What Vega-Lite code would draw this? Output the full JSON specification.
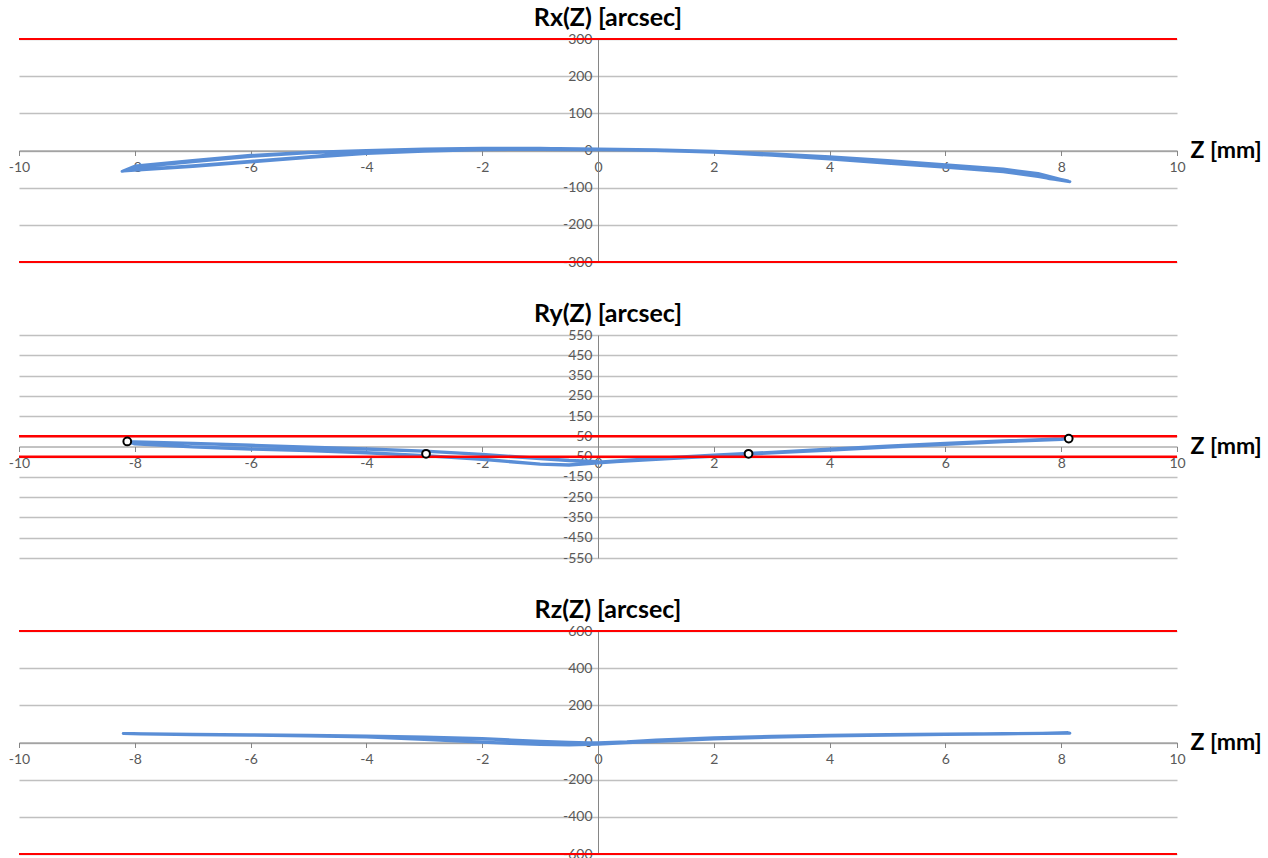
{
  "$schema": "https://vega.github.io/schema/vega-lite/v6.json",
  "background": "white",
  "padding": {"left": 8, "top": 6, "right": 0, "bottom": 0},
  "spacing": 33,
  "config": {
    "view": {"stroke": null},
    "font": "Lato",
    "axis": {"labelFont": "Lato", "labelFontSize": 14, "labelColor": "#595959", "domainColor": "#868686", "tickColor": "#868686", "gridColor": "#C0C0C0", "gridWidth": 1.5, "labelOverlap": false, "labelFlush": false, "labelBound": false}
  },
  "datasets": {
    "rx": [
      {"i":0,"z":0,"v":3},{"i":1,"z":1,"v":2},{"i":2,"z":2,"v":-2},{"i":3,"z":3,"v":-9},{"i":4,"z":4,"v":-17},{"i":5,"z":5,"v":-27},{"i":6,"z":6,"v":-38},{"i":7,"z":7,"v":-50},{"i":8,"z":7.6,"v":-62},{"i":9,"z":8.15,"v":-84},
      {"i":10,"z":7.9,"v":-78},{"i":11,"z":7.6,"v":-70},{"i":12,"z":7,"v":-57},{"i":13,"z":6,"v":-45},{"i":14,"z":5,"v":-34},{"i":15,"z":4,"v":-23},{"i":16,"z":3,"v":-13},{"i":17,"z":2,"v":-5},{"i":18,"z":1,"v":0},{"i":19,"z":0,"v":3},
      {"i":20,"z":-1,"v":4},{"i":21,"z":-2,"v":3},{"i":22,"z":-3,"v":0},{"i":23,"z":-4,"v":-6},{"i":24,"z":-4.5,"v":-10},{"i":25,"z":-5,"v":-17},{"i":26,"z":-6,"v":-29},{"i":27,"z":-7,"v":-41},{"i":28,"z":-8,"v":-52},{"i":29,"z":-8.22,"v":-56},
      {"i":30,"z":-8,"v":-42},{"i":31,"z":-7,"v":-27},{"i":32,"z":-6,"v":-13},{"i":33,"z":-5,"v":-5},{"i":34,"z":-4,"v":0},{"i":35,"z":-3,"v":4},{"i":36,"z":-2,"v":6},{"i":37,"z":-1,"v":6},{"i":38,"z":0,"v":4},
      {"i":39,"z":1,"v":2},{"i":40,"z":2,"v":-3},{"i":41,"z":3,"v":-10},{"i":42,"z":4,"v":-19},{"i":43,"z":5,"v":-29},{"i":44,"z":6,"v":-40},{"i":45,"z":7,"v":-52},{"i":46,"z":7.6,"v":-64},{"i":47,"z":8.12,"v":-82},
      {"i":48,"z":7.8,"v":-76},{"i":49,"z":7.6,"v":-68},{"i":50,"z":7,"v":-55},{"i":51,"z":6,"v":-43},{"i":52,"z":5,"v":-32},{"i":53,"z":4,"v":-21},{"i":54,"z":3,"v":-11},{"i":55,"z":2,"v":-4},{"i":56,"z":1,"v":1},{"i":57,"z":0,"v":2},
      {"i":58,"z":-1,"v":3},{"i":59,"z":-2,"v":2},{"i":60,"z":-3,"v":-2},{"i":61,"z":-4,"v":-8},{"i":62,"z":-5,"v":-19},{"i":63,"z":-6,"v":-31},{"i":64,"z":-7,"v":-43},{"i":65,"z":-8,"v":-53},{"i":66,"z":-8.2,"v":-55},
      {"i":67,"z":-8,"v":-45},{"i":68,"z":-7,"v":-30},{"i":69,"z":-6,"v":-16},{"i":70,"z":-5,"v":-6},{"i":71,"z":-4,"v":-1},{"i":72,"z":-3,"v":3},{"i":73,"z":-2,"v":5},{"i":74,"z":-1,"v":6},{"i":75,"z":0,"v":3}
    ],
    "ry": [
      {"i":0,"z":0,"v":-80},{"i":1,"z":1,"v":-60},{"i":2,"z":2,"v":-44},{"i":3,"z":2.6,"v":-36},{"i":4,"z":3,"v":-30},{"i":5,"z":4,"v":-14},{"i":6,"z":5,"v":0},{"i":7,"z":6,"v":15},{"i":8,"z":7,"v":27},{"i":9,"z":8,"v":37},{"i":10,"z":8.13,"v":40},
      {"i":11,"z":8,"v":35},{"i":12,"z":7,"v":23},{"i":13,"z":6,"v":10},{"i":14,"z":5,"v":-4},{"i":15,"z":4,"v":-18},{"i":16,"z":3,"v":-32},{"i":17,"z":2,"v":-48},{"i":18,"z":1,"v":-64},{"i":19,"z":0,"v":-80},
      {"i":20,"z":-0.5,"v":-90},{"i":21,"z":-1,"v":-86},{"i":22,"z":-2,"v":-62},{"i":23,"z":-3,"v":-44},{"i":24,"z":-4,"v":-30},{"i":25,"z":-5,"v":-19},{"i":26,"z":-6,"v":-11},{"i":27,"z":-7,"v":-1},{"i":28,"z":-8,"v":14},{"i":29,"z":-8.15,"v":22},
      {"i":30,"z":-8,"v":23},{"i":31,"z":-7,"v":15},{"i":32,"z":-6,"v":5},{"i":33,"z":-5,"v":-5},{"i":34,"z":-4,"v":-13},{"i":35,"z":-3,"v":-24},{"i":36,"z":-2,"v":-40},{"i":37,"z":-1,"v":-60},{"i":38,"z":-0.5,"v":-70},{"i":39,"z":0,"v":-76},
      {"i":40,"z":1,"v":-58},{"i":41,"z":2,"v":-42},{"i":42,"z":3,"v":-28},{"i":43,"z":4,"v":-12},{"i":44,"z":5,"v":2},{"i":45,"z":6,"v":16},{"i":46,"z":7,"v":28},{"i":47,"z":8,"v":38},{"i":48,"z":8.12,"v":41},
      {"i":49,"z":8,"v":37},{"i":50,"z":7,"v":25},{"i":51,"z":6,"v":12},{"i":52,"z":5,"v":-2},{"i":53,"z":4,"v":-16},{"i":54,"z":3,"v":-30},{"i":55,"z":2,"v":-46},{"i":56,"z":1,"v":-62},{"i":57,"z":0,"v":-82},
      {"i":58,"z":-0.5,"v":-92},{"i":59,"z":-1,"v":-88},{"i":60,"z":-2,"v":-64},{"i":61,"z":-3,"v":-46},{"i":62,"z":-4,"v":-32},{"i":63,"z":-5,"v":-21},{"i":64,"z":-6,"v":-13},{"i":65,"z":-7,"v":-3},{"i":66,"z":-8,"v":12},{"i":67,"z":-8.13,"v":24},
      {"i":68,"z":-8,"v":24},{"i":69,"z":-7,"v":16},{"i":70,"z":-6,"v":7},{"i":71,"z":-5,"v":-3},{"i":72,"z":-4,"v":-11},{"i":73,"z":-3,"v":-22},{"i":74,"z":-2,"v":-38},{"i":75,"z":-1,"v":-58},{"i":76,"z":-0.5,"v":-68},{"i":77,"z":0,"v":-74}
    ],
    "rz": [
      {"i":0,"z":0,"v":-5},{"i":1,"z":0.5,"v":2},{"i":2,"z":1,"v":12},{"i":3,"z":2,"v":24},{"i":4,"z":3,"v":32},{"i":5,"z":4,"v":38},{"i":6,"z":5,"v":42},{"i":7,"z":6,"v":45},{"i":8,"z":7,"v":48},{"i":9,"z":8.15,"v":50},
      {"i":10,"z":7,"v":47},{"i":11,"z":6,"v":44},{"i":12,"z":5,"v":40},{"i":13,"z":4,"v":36},{"i":14,"z":3,"v":29},{"i":15,"z":2,"v":20},{"i":16,"z":1,"v":8},{"i":17,"z":0.5,"v":0},{"i":18,"z":0,"v":-8},
      {"i":19,"z":-0.5,"v":-12},{"i":20,"z":-1,"v":-10},{"i":21,"z":-1.5,"v":-4},{"i":22,"z":-2,"v":3},{"i":23,"z":-3,"v":18},{"i":24,"z":-4,"v":30},{"i":25,"z":-5,"v":36},{"i":26,"z":-6,"v":40},{"i":27,"z":-7,"v":43},{"i":28,"z":-8.2,"v":48},
      {"i":29,"z":-7,"v":44},{"i":30,"z":-6,"v":42},{"i":31,"z":-5,"v":38},{"i":32,"z":-4,"v":34},{"i":33,"z":-3,"v":28},{"i":34,"z":-2,"v":20},{"i":35,"z":-1.5,"v":12},{"i":36,"z":-1,"v":5},{"i":37,"z":-0.5,"v":0},{"i":38,"z":0,"v":-2},
      {"i":39,"z":0.5,"v":4},{"i":40,"z":1,"v":14},{"i":41,"z":2,"v":25},{"i":42,"z":3,"v":33},{"i":43,"z":4,"v":39},{"i":44,"z":5,"v":43},{"i":45,"z":6,"v":46},{"i":46,"z":7,"v":48},{"i":47,"z":8.12,"v":50},
      {"i":48,"z":7,"v":46},{"i":49,"z":6,"v":43},{"i":50,"z":5,"v":39},{"i":51,"z":4,"v":35},{"i":52,"z":3,"v":28},{"i":53,"z":2,"v":19},{"i":54,"z":1,"v":6},{"i":55,"z":0.5,"v":-2},{"i":56,"z":0,"v":-9},
      {"i":57,"z":-0.5,"v":-13},{"i":58,"z":-1,"v":-11},{"i":59,"z":-1.5,"v":-6},{"i":60,"z":-2,"v":1},{"i":61,"z":-3,"v":16},{"i":62,"z":-4,"v":29},{"i":63,"z":-5,"v":35},{"i":64,"z":-6,"v":39},{"i":65,"z":-7,"v":42},{"i":66,"z":-8.18,"v":47},
      {"i":67,"z":-7,"v":45},{"i":68,"z":-6,"v":42},{"i":69,"z":-5,"v":39},{"i":70,"z":-4,"v":35},{"i":71,"z":-3,"v":29},{"i":72,"z":-2,"v":22},{"i":73,"z":-1.5,"v":14},{"i":74,"z":-1,"v":7},{"i":75,"z":-0.5,"v":2},{"i":76,"z":0,"v":-3}
    ],
    "rymarks": [
      {"z":-8.13,"v":25},{"z":-2.97,"v":-36},{"z":2.6,"v":-36},{"z":8.13,"v":39}
    ]
  },
  "vconcat": [
    {
      "width": 1158, "height": 223,
      "title": {"text": "Rx(Z) [arcsec]", "fontSize": 25, "font": "Lato", "fontWeight": "bold", "color": "#000000", "anchor": "middle", "frame": "group", "dx": 10, "offset": 1},
      "layer": [
        {
          "data": {"name": "rx"},
          "mark": {"type": "line", "color": "#5A8ED6", "strokeWidth": 3, "strokeJoin": "round"},
          "encoding": {
            "x": {"field": "z", "type": "quantitative", "scale": {"domain": [-10, 10], "nice": false, "zero": false},
                  "axis": {"values": [-10,-8,-6,-4,-2,0,2,4,6,8,10], "tickCount": 30, "labelExpr": "datum.value + ''", "labelOverlap": false, "offset": -111.5, "grid": false, "tickSize": 5, "labelPadding": 5, "title": "Z [mm]", "titleX": 1171, "titleY": 0, "titleAlign": "left", "titleBaseline": "middle", "titleFontSize": 23, "titleFont": "Lato", "titleFontWeight": "bold", "titleColor": "#000000", "titleAngle": 0}},
            "y": {"field": "v", "type": "quantitative", "scale": {"domain": [-300, 300], "nice": false},
                  "axis": {"values": [-300,-200,-100,0,100,200,300], "tickCount": 30, "labelExpr": "datum.value + ''", "labelOverlap": false, "offset": -579, "grid": true, "tickSize": 0, "labelPadding": 6, "title": null}},
            "order": {"field": "i", "type": "quantitative"}
          }
        },
        {
          "data": {"values": [{"v": 300}, {"v": -300}]},
          "mark": {"type": "rule", "color": "#FF0000", "strokeWidth": 2},
          "encoding": {"y": {"field": "v", "type": "quantitative"}}
        }
      ]
    },
    {
      "width": 1158, "height": 223,
      "title": {"text": "Ry(Z) [arcsec]", "fontSize": 25, "font": "Lato", "fontWeight": "bold", "color": "#000000", "anchor": "middle", "frame": "group", "dx": 10, "offset": 1},
      "layer": [
        {
          "data": {"name": "ry"},
          "mark": {"type": "line", "color": "#5A8ED6", "strokeWidth": 3, "strokeJoin": "round"},
          "encoding": {
            "x": {"field": "z", "type": "quantitative", "scale": {"domain": [-10, 10], "nice": false, "zero": false},
                  "axis": {"values": [-10,-8,-6,-4,-2,0,2,4,6,8,10], "tickCount": 30, "labelExpr": "datum.value + ''", "labelOverlap": false, "offset": -111.5, "grid": false, "tickSize": 5, "labelPadding": 5, "title": "Z [mm]", "titleX": 1171, "titleY": 0, "titleAlign": "left", "titleBaseline": "middle", "titleFontSize": 23, "titleFont": "Lato", "titleFontWeight": "bold", "titleColor": "#000000", "titleAngle": 0}},
            "y": {"field": "v", "type": "quantitative", "scale": {"domain": [-550, 550], "nice": false},
                  "axis": {"values": [-550,-450,-350,-250,-150,-50,50,150,250,350,450,550], "tickCount": 30, "labelExpr": "datum.value + ''", "labelOverlap": false, "offset": -579, "grid": true, "tickSize": 0, "labelPadding": 6, "title": null}},
            "order": {"field": "i", "type": "quantitative"}
          }
        },
        {
          "data": {"values": [{"v": 50}, {"v": -50}]},
          "mark": {"type": "rule", "color": "#FF0000", "strokeWidth": 2.5},
          "encoding": {"y": {"field": "v", "type": "quantitative"}}
        },
        {
          "data": {"name": "rymarks"},
          "mark": {"type": "point", "filled": false, "fill": "#FFFFFF", "fillOpacity": 1, "stroke": "#000000", "strokeWidth": 2, "size": 60, "opacity": 1},
          "encoding": {
            "x": {"field": "z", "type": "quantitative"},
            "y": {"field": "v", "type": "quantitative"}
          }
        }
      ]
    },
    {
      "width": 1158, "height": 223,
      "title": {"text": "Rz(Z) [arcsec]", "fontSize": 25, "font": "Lato", "fontWeight": "bold", "color": "#000000", "anchor": "middle", "frame": "group", "dx": 10, "offset": 1},
      "layer": [
        {
          "data": {"name": "rz"},
          "mark": {"type": "line", "color": "#5A8ED6", "strokeWidth": 3, "strokeJoin": "round"},
          "encoding": {
            "x": {"field": "z", "type": "quantitative", "scale": {"domain": [-10, 10], "nice": false, "zero": false},
                  "axis": {"values": [-10,-8,-6,-4,-2,0,2,4,6,8,10], "tickCount": 30, "labelExpr": "datum.value + ''", "labelOverlap": false, "offset": -111.5, "grid": false, "tickSize": 5, "labelPadding": 5, "title": "Z [mm]", "titleX": 1171, "titleY": 0, "titleAlign": "left", "titleBaseline": "middle", "titleFontSize": 23, "titleFont": "Lato", "titleFontWeight": "bold", "titleColor": "#000000", "titleAngle": 0}},
            "y": {"field": "v", "type": "quantitative", "scale": {"domain": [-600, 600], "nice": false},
                  "axis": {"values": [-600,-400,-200,0,200,400,600], "tickCount": 30, "labelExpr": "datum.value + ''", "labelOverlap": false, "offset": -579, "grid": true, "tickSize": 0, "labelPadding": 6, "title": null}},
            "order": {"field": "i", "type": "quantitative"}
          }
        },
        {
          "data": {"values": [{"v": 600}, {"v": -600}]},
          "mark": {"type": "rule", "color": "#FF0000", "strokeWidth": 2},
          "encoding": {"y": {"field": "v", "type": "quantitative"}}
        }
      ]
    }
  ]
}
